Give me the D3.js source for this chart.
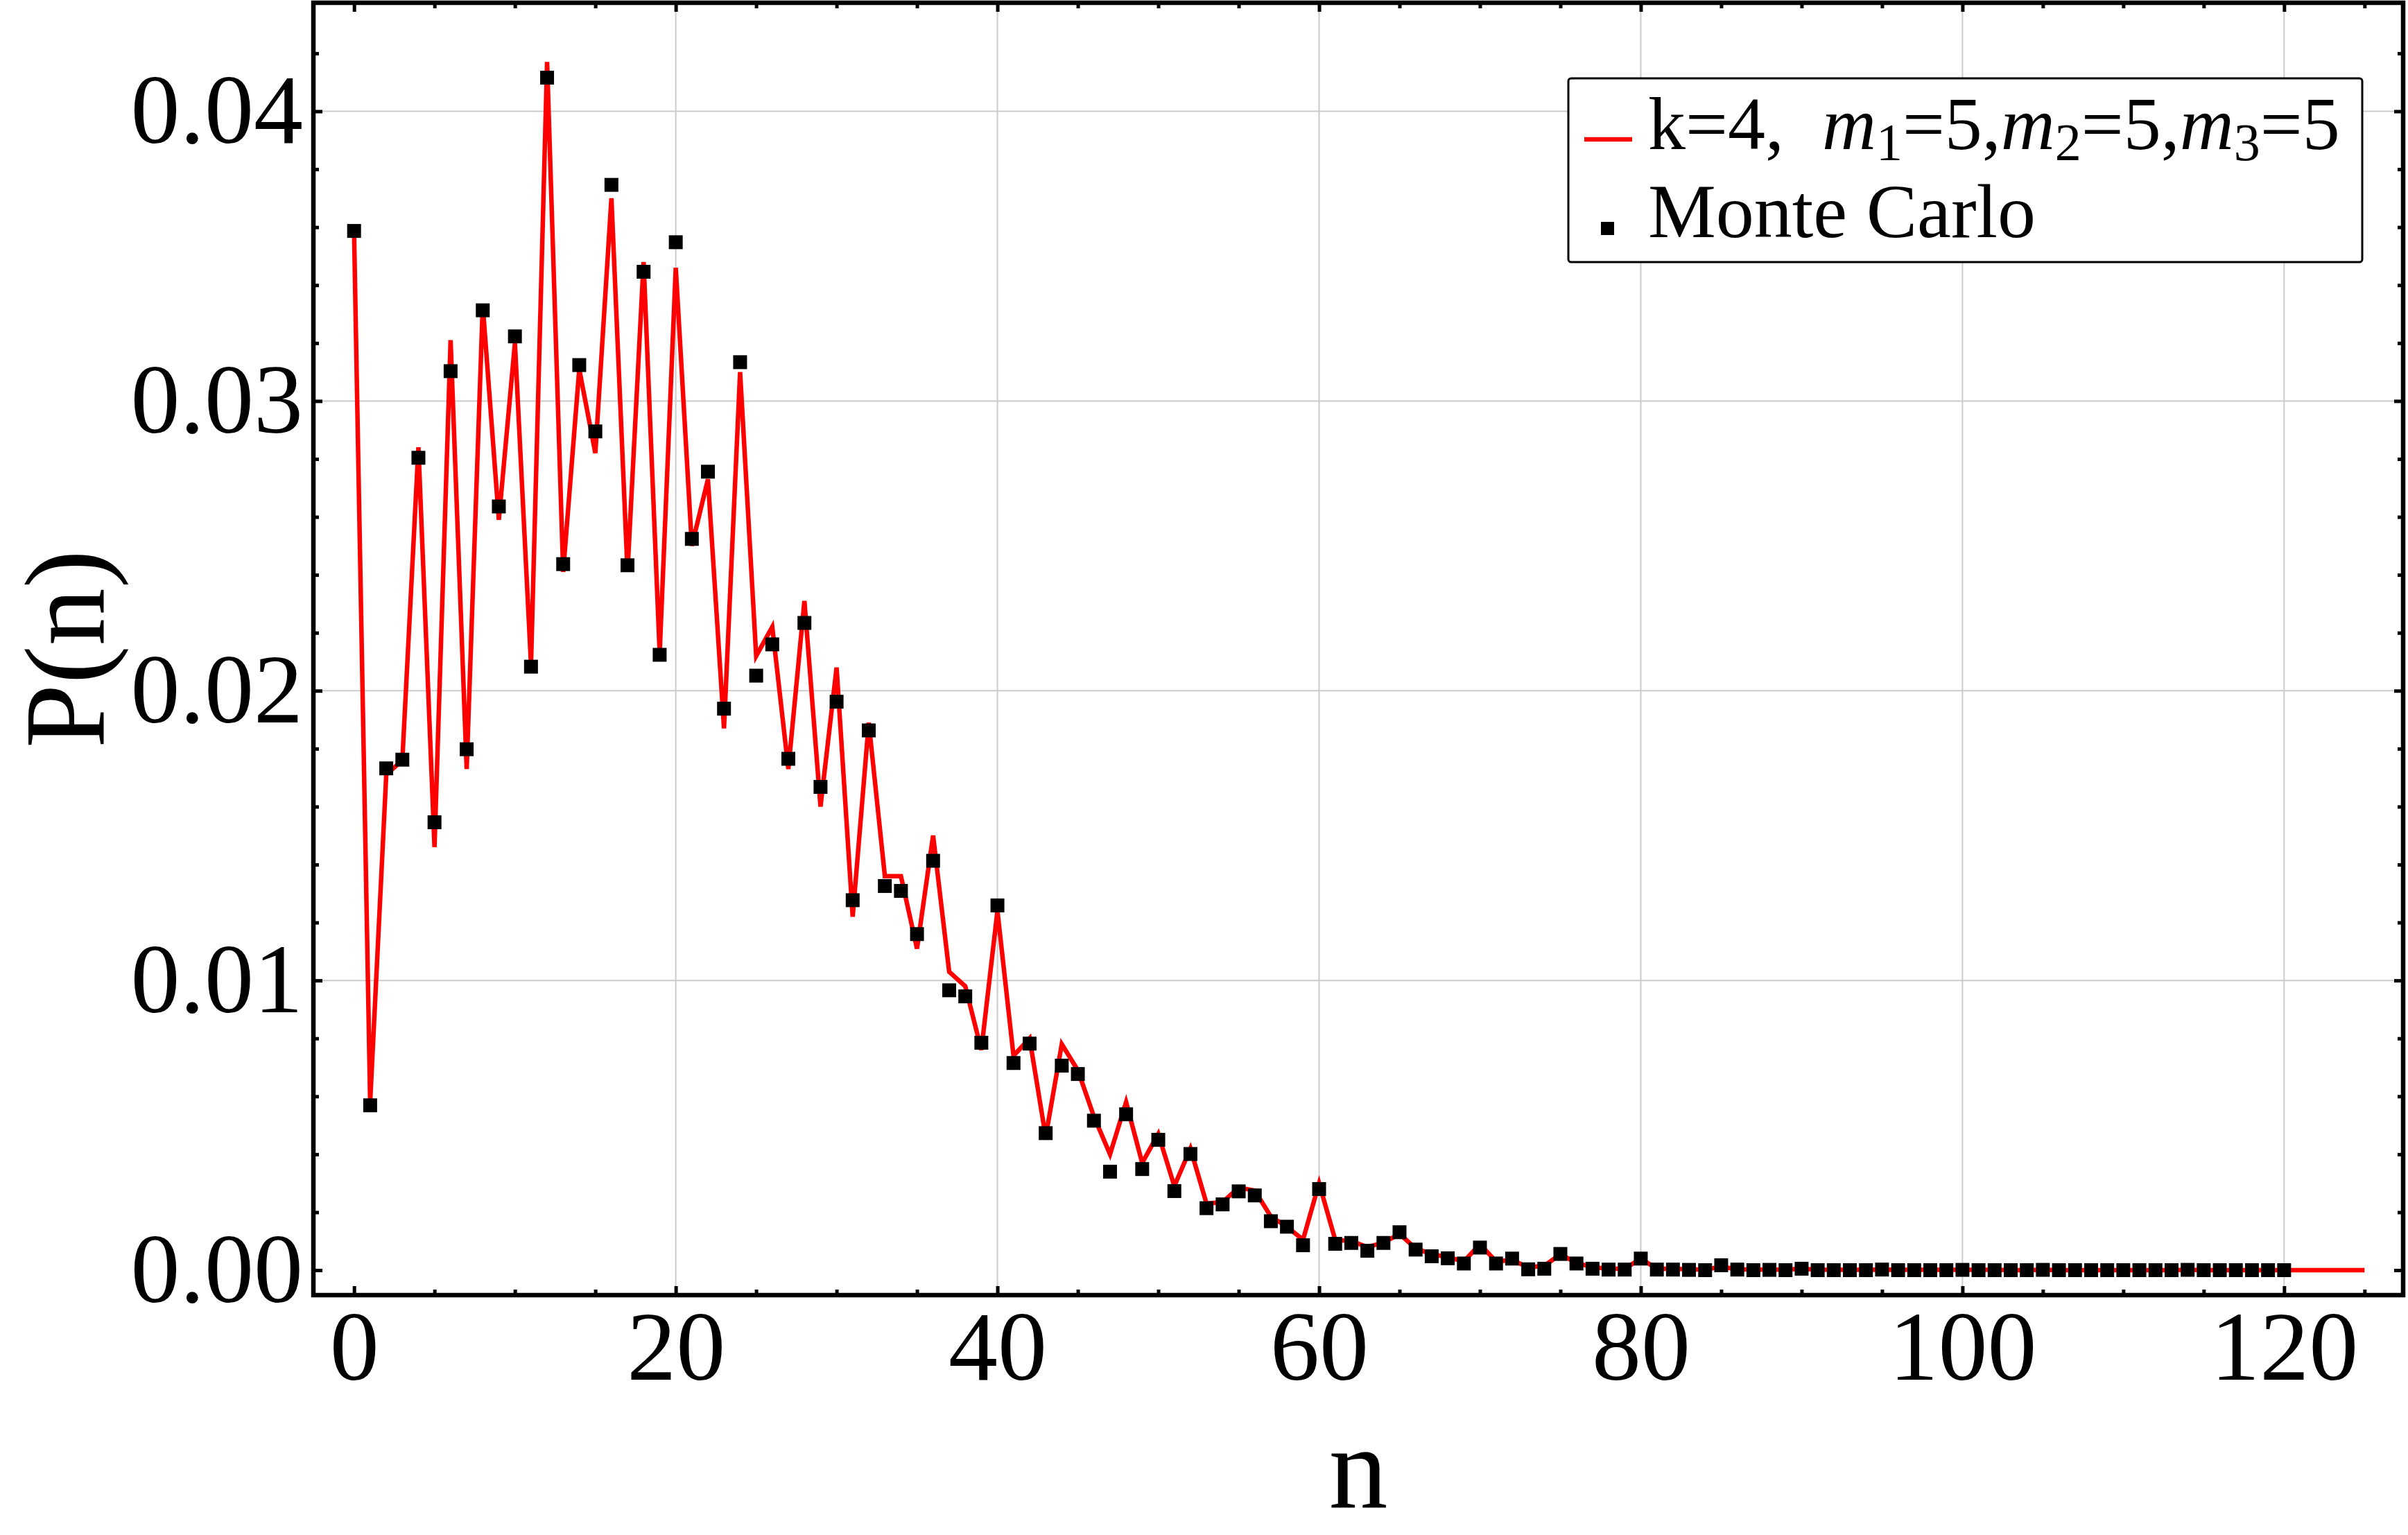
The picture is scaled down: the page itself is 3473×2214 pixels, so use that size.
<!DOCTYPE html>
<html>
<head>
<meta charset="utf-8">
<script src="https://cdn.jsdelivr.net/npm/d3@7"></script>
<style>
  body { margin: 0; background: #fff; }
  svg { display: block; }
  text { font-family: "Liberation Serif", "DejaVu Serif", serif; fill: #000; }
</style>
</head>
<body>
<svg id="chart" width="3473" height="2214"></svg>
<script>
// theory curve P(n), n = 0..125 (k=4, m1=m2=m3=5)
const theory = [
  0.0358, 0.0058, 0.0171, 0.0176, 0.0284, 0.0146, 0.0321, 0.0173, 0.0333, 0.0259,
  0.0320, 0.0209, 0.0417, 0.0241, 0.0311, 0.0282, 0.0370, 0.0241, 0.0348, 0.0213,
  0.0346, 0.0250, 0.0273, 0.0187, 0.0310, 0.0212, 0.0222, 0.0173, 0.0231, 0.0160,
  0.0208, 0.0122, 0.0189, 0.0136, 0.0136, 0.0111, 0.0150, 0.0103, 0.0098, 0.0076,
  0.0124, 0.0074, 0.0080, 0.0046, 0.0078, 0.0069, 0.0053, 0.0040, 0.0058, 0.0037,
  0.0047, 0.0029, 0.0042, 0.0023, 0.00235, 0.00285, 0.00275, 0.00185, 0.0015, 0.00105,
  0.0030, 0.00105, 0.0010, 0.0008, 0.00095, 0.00125, 0.00075, 0.00055, 0.00045, 0.0003,
  0.0009, 0.0003, 0.00035, 0.0001, 0.00015, 0.00055, 0.00025, 0.0001, 0.00005, 0.00005,
  0.0004, 0.00005, 0.00005, 0.00003, 0.00002, 0.00012, 0.00003, 0.00002, 0.00002, 0.00002,
  0.00005, 0.00002, 0.00001, 0.00001, 0.00001, 0.00002, 0.00001, 0.00001, 0.00001, 0.00001,
  0.00001, 0.00001, 0.00001, 0, 0, 0.00001, 0, 0, 0, 0,
  0, 0, 0, 0, 0.00001, 0, 0, 0, 0, 0,
  0, 0, 0, 0, 0, 0
];

// Monte Carlo estimate, n = 0..120
const monteCarlo = [
  0.03587, 0.00569, 0.01732, 0.01762, 0.02804, 0.01546, 0.03103, 0.01798, 0.03313, 0.02636,
  0.03223, 0.02083, 0.04116, 0.02437, 0.03124, 0.02895, 0.03746, 0.02433, 0.03446, 0.02124,
  0.03548, 0.02524, 0.02756, 0.01938, 0.03134, 0.02052, 0.02160, 0.01765, 0.02234, 0.01668,
  0.01962, 0.01277, 0.01863, 0.01326, 0.01309, 0.01160, 0.01413, 0.00966, 0.00945, 0.00785,
  0.01259, 0.00715, 0.00782, 0.00473, 0.00706, 0.00677, 0.00516, 0.00340, 0.00538, 0.00349,
  0.00450, 0.00273, 0.00401, 0.00214, 0.00227, 0.00272, 0.00258, 0.00169, 0.00150, 0.00086,
  0.00280, 0.00091, 0.00094, 0.00067, 0.00094, 0.00131, 0.00071, 0.00048, 0.00041, 0.00023,
  0.00078, 0.00023, 0.00040, 0.00003, 0.00005, 0.00056, 0.00023, 0.00005, 0.00002, 0.00002,
  0.00040, 0.00002, 0.00002, 0.00001, 0, 0.00017, 0.00002, 0, 0.00001, 0,
  0.00005, 0, 0, 0, 0, 0.00002, 0, 0, 0, 0,
  0.00001, 0, 0, 0, 0, 0.00001, 0, 0, 0, 0,
  0, 0, 0, 0, 0.00001, 0, 0, 0, 0, 0,
  0
];

const xMajor = [0, 20, 40, 60, 80, 100, 120];
const xMinor = [5, 10, 15, 25, 30, 35, 45, 50, 55, 65, 70, 75, 85, 90, 95, 105, 110, 115, 125];
const yMajor = [0, 0.01, 0.02, 0.03, 0.04];
const yMinor = [0.002, 0.004, 0.006, 0.008, 0.012, 0.014, 0.016, 0.018,
                0.022, 0.024, 0.026, 0.028, 0.032, 0.034, 0.036, 0.038, 0.042];

const legendLabels = ["Monte Carlo"];

const svg = d3.select("#chart");

const plotL = 452, plotR = 3466, plotT = 4, plotB = 1868;

const x = d3.scaleLinear().domain([-2.53, 127.4]).range([plotL, plotR]);
const y = d3.scaleLinear().domain([-0.000861, 0.043745]).range([plotB, plotT]);

// grid
svg.append("g")
  .selectAll("line")
  .data(xMajor.filter(d => d > 0))
  .join("line")
  .attr("x1", d => x(d)).attr("x2", d => x(d))
  .attr("y1", plotT).attr("y2", plotB)
  .attr("stroke", "#cbcbcb").attr("stroke-width", 2);

svg.append("g")
  .selectAll("line")
  .data(yMajor.filter(d => d > 0))
  .join("line")
  .attr("x1", plotL).attr("x2", plotR)
  .attr("y1", d => y(d)).attr("y2", d => y(d))
  .attr("stroke", "#cbcbcb").attr("stroke-width", 2);

// theory line
const line = d3.line()
  .x((d, i) => x(i))
  .y(d => y(d));

svg.append("path")
  .datum(theory)
  .attr("d", line)
  .attr("fill", "none")
  .attr("stroke", "#ff0000")
  .attr("stroke-width", 6.5)
  .attr("stroke-linejoin", "miter")
  .attr("stroke-miterlimit", 4);

// monte carlo points
const ms = 20;
svg.append("g")
  .selectAll("rect")
  .data(monteCarlo)
  .join("rect")
  .attr("x", (d, i) => x(i) - ms / 2)
  .attr("y", d => y(d) - ms / 2)
  .attr("width", ms)
  .attr("height", ms)
  .attr("fill", "#000");

// frame
svg.append("rect")
  .attr("x", plotL).attr("y", plotT)
  .attr("width", plotR - plotL).attr("height", plotB - plotT)
  .attr("fill", "none")
  .attr("stroke", "#000")
  .attr("stroke-width", 6.5);

function styleAxis(g, fontSize) {
  g.select(".domain").remove();
  g.selectAll(".tick line").attr("stroke", "#000").attr("stroke-width", 5);
  g.selectAll(".tick text").attr("font-size", fontSize).attr("font-family", null);
}

// bottom axis
svg.append("g")
  .attr("transform", `translate(0,${plotB})`)
  .call(d3.axisBottom(x).tickValues(xMajor).tickSize(-13).tickPadding(21).tickFormat(d3.format("d")))
  .call(g => styleAxis(g, 142));
svg.append("g")
  .attr("transform", `translate(0,${plotB})`)
  .call(d3.axisBottom(x).tickValues(xMinor).tickSize(-8).tickFormat(""))
  .call(g => styleAxis(g, 0));

// top axis (mirrored ticks)
svg.append("g")
  .attr("transform", `translate(0,${plotT})`)
  .call(d3.axisTop(x).tickValues(xMajor).tickSize(-13).tickFormat(""))
  .call(g => styleAxis(g, 0));
svg.append("g")
  .attr("transform", `translate(0,${plotT})`)
  .call(d3.axisTop(x).tickValues(xMinor).tickSize(-8).tickFormat(""))
  .call(g => styleAxis(g, 0));

// left axis
svg.append("g")
  .attr("transform", `translate(${plotL},0)`)
  .call(d3.axisLeft(y).tickValues(yMajor).tickSize(-13).tickPadding(15).tickFormat(d3.format(".2f")))
  .call(g => styleAxis(g, 142));
svg.append("g")
  .attr("transform", `translate(${plotL},0)`)
  .call(d3.axisLeft(y).tickValues(yMinor).tickSize(-8).tickFormat(""))
  .call(g => styleAxis(g, 0));

// right axis (mirrored ticks)
svg.append("g")
  .attr("transform", `translate(${plotR},0)`)
  .call(d3.axisRight(y).tickValues(yMajor).tickSize(-13).tickFormat(""))
  .call(g => styleAxis(g, 0));
svg.append("g")
  .attr("transform", `translate(${plotR},0)`)
  .call(d3.axisRight(y).tickValues(yMinor).tickSize(-8).tickFormat(""))
  .call(g => styleAxis(g, 0));

// axis titles
svg.append("text")
  .attr("x", (plotL + plotR) / 2)
  .attr("y", 2174)
  .attr("text-anchor", "middle")
  .attr("font-size", 170)
  .text("n");

svg.append("text")
  .attr("transform", `translate(150,${(plotT + plotB) / 2}) rotate(-90)`)
  .attr("text-anchor", "middle")
  .attr("font-size", 166)
  .text("P(n)");

// legend
const lg = svg.append("g");
lg.append("rect")
  .attr("x", 2262).attr("y", 113)
  .attr("width", 1145).attr("height", 265)
  .attr("rx", 4)
  .attr("fill", "#fff")
  .attr("stroke", "#000")
  .attr("stroke-width", 3);

lg.append("line")
  .attr("x1", 2285).attr("x2", 2354)
  .attr("y1", 201).attr("y2", 201)
  .attr("stroke", "#ff0000").attr("stroke-width", 6.5);

const t1 = lg.append("text").attr("x", 2377).attr("y", 215).attr("font-size", 108);
t1.append("tspan").text("k=4,");
[["1", 55], ["2", 0], ["3", 0]].forEach(([sub, gap], i) => {
  if (i > 0) t1.append("tspan").text(",");
  t1.append("tspan").attr("dx", gap).attr("font-style", "italic").text("m");
  t1.append("tspan").attr("font-size", 76).attr("dy", 16).text(sub);
  t1.append("tspan").attr("dy", -16).text("=5");
});

lg.append("rect")
  .attr("x", 2309).attr("y", 320)
  .attr("width", 19).attr("height", 19)
  .attr("fill", "#000");

lg.append("text")
  .attr("x", 2377).attr("y", 342)
  .attr("font-size", 110)
  .text(legendLabels[0]);
</script>
</body>
</html>
